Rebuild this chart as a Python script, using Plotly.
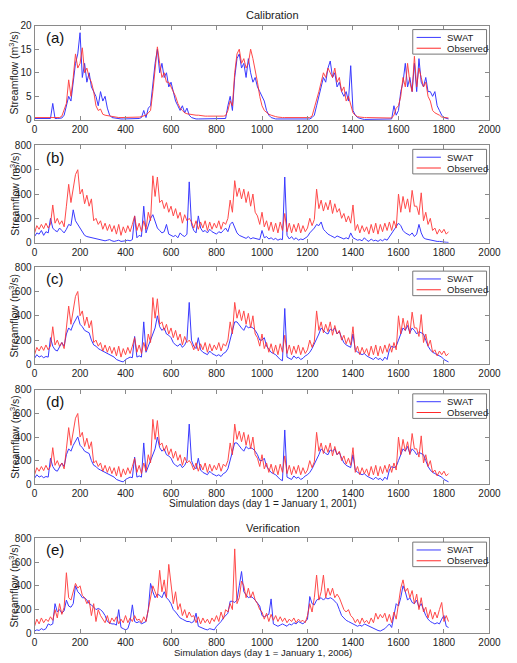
import plotly.graph_objects as go

# ---------------- data (10-day sampling) ----------------
days = list(range(0, 1830, 10))

obs_a = [0.5,0.5,0.5,0.5,0.5,0.5,0.5,0.5,0.5,0.5,
         0.5,0.5,0.8,2,3.5,8.5,5,9,14,11,
         12,15.3,10,11,9,8,6,3,2,2.3,
         1.2,1,0.9,0.8,0.7,0.6,0.6,0.5,0.5,0.5,
         0.5,0.5,0.5,0.5,0.5,0.5,0.6,0.7,0.8,1,
         1.5,2,6,11,15.5,12,9,10,8,8,
         7,6,5,3.5,2.5,2,1.5,1.3,1.2,1.1,
         1,1,1,0.9,0.9,0.8,0.8,0.8,0.7,0.7,
         0.7,0.7,0.8,0.8,0.9,2,4,3,10,14,
         15,12,13,11,12,15,13,10,8,5,
         3,2,1.5,1.2,1,0.8,0.7,0.6,0.5,0.5,
         0.5,0.5,0.5,0.5,0.5,0.5,0.5,0.5,0.5,0.5,
         0.5,0.5,0.8,2.5,4,6,8,10,9,11,
         10,9,11,8,9,6,7,4,5,3,
         1.5,1,0.7,0.6,0.5,0.5,0.5,0.5,0.5,0.5,
         0.4,0.4,0.4,0.4,0.4,0.4,0.4,0.4,1,2.5,
         3,5,9,7,12,8,6,13.5,7,11,
         9,7,8,5,4,2,1.5,1.3,1,0.6,
         0.5,0.5,0.4]

swat_a = [0.3,0.3,0.3,0.3,0.3,0.3,0.3,0.3,3.5,0.3,
          0.3,0.3,0.4,1,3,5,4,8,12,14,
          18.5,9,12,8,10,7,6,5,3,6,
          4,5,2.5,1,0.5,0.4,0.3,0.2,0.2,0.2,
          0.2,0.2,0.2,0.2,0.2,0.2,0.3,0.5,2,0.5,
          2.5,3,8,12,15,10,12,9,10,7,
          8,6,4,3,2,3,1.5,2.5,1,0.5,
          0.3,0.2,0.2,0.2,0.2,0.2,0.2,0.2,0.2,0.2,
          0.2,0.2,0.2,0.2,0.3,3,5,2,9,13,
          14,11,12,9,13,10,8,9,7,6,
          5,4,2,1,0.5,0.3,0.2,0.2,0.2,0.2,
          0.2,0.2,0.2,0.2,0.2,0.2,0.2,0.2,0.2,0.2,
          0.2,0.2,0.5,1,3,5,7,9,8,11,
          12.5,9,10,7,8,6,5,6,4,11.5,
          2,1,0.5,0.3,0.2,0.1,0.1,0.1,0.1,0.1,
          0.1,0.1,0.1,0.1,0.1,0.1,0.1,0.2,3,1,
          2,6,8,12,7,9,6,12,6,13,
          8,7,9,6,6,5,6,3,2,1,
          0.5,0.3,0.2]

obs_bcd = [80,140,110,150,115,160,120,150,310,160,
           200,150,180,130,300,480,330,440,560,600,
           400,440,320,390,300,360,180,200,150,180,
           110,160,100,150,90,140,70,150,60,130,
           80,140,90,150,220,100,160,90,180,110,
           250,180,550,380,540,330,350,280,330,250,
           300,220,280,200,250,160,230,180,200,170,
           120,180,110,170,120,180,100,170,110,160,
           120,180,110,170,150,200,350,250,510,380,
           450,360,440,330,420,300,400,250,220,150,
           250,130,180,100,170,90,160,80,170,100,
           240,90,160,80,150,90,160,80,140,90,
           120,200,140,190,440,280,350,260,330,270,
           350,240,320,250,280,200,240,170,220,160,
           310,100,150,80,140,90,130,70,150,80,
           160,70,150,90,160,100,170,100,180,120,
           400,250,380,280,360,250,430,300,300,230,
           410,180,250,150,200,100,120,70,110,80,
           110,70,90]

swat_b = [50,80,70,100,60,90,80,200,120,100,
          90,120,100,80,110,150,140,270,180,150,
          110,80,60,50,45,40,40,35,30,25,
          20,15,20,25,15,10,15,20,10,10,
          15,20,15,25,220,40,60,50,300,80,
          150,200,230,180,120,100,80,90,150,70,
          60,50,60,40,80,60,50,70,500,150,
          100,80,220,120,90,100,80,110,90,80,
          70,90,80,100,120,90,150,170,130,80,
          60,50,40,35,50,30,40,35,30,25,
          100,40,50,30,40,25,35,20,30,25,
          540,60,30,50,25,40,20,30,25,40,
          50,80,100,120,150,140,170,110,90,70,
          60,50,40,55,45,35,30,40,30,80,
          40,30,20,25,15,40,20,10,30,15,
          20,10,25,15,30,20,50,80,110,130,
          160,140,100,80,70,60,80,50,70,150,
          80,40,30,25,20,15,15,10,10,5,
          5,3,2]

swat_cd = [50,80,60,70,55,65,60,220,150,120,
           110,140,180,150,250,300,280,330,360,400,
           330,310,280,270,260,200,160,150,130,120,
           110,100,90,80,70,60,40,30,25,20,
           40,50,60,55,230,60,70,60,350,100,
           150,200,250,300,400,310,280,300,250,240,
           220,180,160,150,170,140,160,200,510,200,
           150,130,220,120,100,90,80,110,90,80,
           70,80,65,90,100,130,200,280,350,350,
           320,300,280,320,300,310,300,280,250,200,
           200,220,150,120,100,90,80,60,40,30,
           460,60,50,40,70,50,60,40,50,70,
           80,100,130,170,200,250,300,280,260,250,
           290,280,300,250,270,220,180,160,150,140,
           250,120,100,90,80,90,70,60,50,40,
           60,40,50,30,60,40,120,150,140,150,
           200,250,300,280,320,260,300,280,250,270,
           260,250,200,150,120,100,90,80,70,60,
           40,30,20]

obs_e = [60,120,80,130,90,120,100,140,110,200,
         130,250,160,220,510,300,280,350,420,380,
         400,320,300,250,280,150,250,100,200,150,
         120,90,150,80,130,100,140,80,120,90,
         150,90,130,100,150,110,120,90,140,100,
         200,300,400,350,300,530,350,450,300,580,
         400,250,350,200,250,150,200,130,180,140,
         150,90,140,80,130,90,120,80,130,100,
         150,100,180,120,200,180,250,200,710,250,
         300,440,400,300,380,300,350,280,250,200,
         180,120,170,100,160,110,150,100,140,100,
         130,90,120,100,130,90,120,100,110,90,
         150,250,180,300,490,280,350,490,300,380,
         320,380,300,330,300,250,200,180,200,150,
         130,90,120,80,130,90,110,80,130,90,
         170,120,160,130,170,100,160,90,180,120,
         250,380,450,350,380,300,360,250,330,200,
         300,180,220,130,200,120,180,130,200,260,
         100,150,100]

swat_e = [20,30,25,40,30,40,80,70,80,250,
          180,200,170,190,280,230,220,250,400,350,
          330,300,300,280,250,240,220,200,210,200,
          180,150,100,90,80,80,70,200,50,40,
          30,40,100,240,100,90,100,80,90,100,
          200,420,350,300,330,320,300,350,300,280,
          250,200,180,150,130,120,110,100,100,90,
          100,170,60,50,40,35,30,40,35,30,
          60,80,100,130,150,170,270,270,260,280,
          400,520,350,320,300,310,300,280,250,230,
          150,140,150,160,290,80,70,60,70,80,
          70,60,80,70,90,80,100,90,80,100,
          120,310,250,240,280,290,300,280,300,290,
          300,290,270,250,200,150,130,110,100,90,
          80,70,60,70,60,80,70,60,50,40,
          30,25,20,30,40,60,80,50,150,250,
          230,300,400,350,280,300,260,250,280,220,
          250,200,150,120,100,90,80,90,80,120,
          150,60,50]

panel_labels = ["(a)", "(b)", "(c)", "(d)", "(e)"]
series_names = ["SWAT", "Observed"]
series = [(swat_a, obs_a), (swat_b, obs_bcd), (swat_cd, obs_bcd),
          (swat_cd, obs_bcd), (swat_e, obs_e)]
ymax = [20, 800, 800, 800, 800]
ydtick = [5, 200, 200, 200, 200]

# ---------------- layout (pixel geometry) ----------------
W, H = 517, 663
x_left, x_right = 32.5, 501
panel_px = [(20, 116), (142, 241), (266, 365), (391, 487), (542, 639)]

BLUE = "#3a3aff"
RED = "#ff2a2a"
FONT = "Liberation Sans, Arial, sans-serif"


def px(xp):
    return xp / W


def py(yp):
    return 1 - yp / H


fig = go.Figure()
layout = dict(width=W, height=H, margin=dict(l=0, r=0, t=0, b=0),
              paper_bgcolor="white", plot_bgcolor="white", showlegend=False,
              font=dict(family=FONT, size=10, color="#222"))
annotations = []
shapes = []

for i, ((sw, ob), lab) in enumerate(zip(series, panel_labels)):
    k = "" if i == 0 else str(i + 1)
    fig.add_trace(go.Scatter(x=days, y=sw, mode="lines", name=series_names[0],
                             line=dict(color=BLUE, width=1),
                             xaxis="x" + k, yaxis="y" + k))
    fig.add_trace(go.Scatter(x=days, y=ob, mode="lines", name=series_names[1],
                             line=dict(color=RED, width=1), opacity=0.85,
                             xaxis="x" + k, yaxis="y" + k))
    top, bot = panel_px[i]
    axstyle = dict(showline=True, linecolor="#8a8a8a", linewidth=1,
                   mirror="ticks", ticks="inside", ticklen=4,
                   tickcolor="#8a8a8a", showgrid=False, zeroline=False,
                   tickfont=dict(size=10, color="#222", family=FONT))
    layout["xaxis" + k] = dict(domain=[px(x_left), px(x_right)],
                               range=[0, 2000], dtick=200, tick0=0,
                               anchor="y" + k, **axstyle)
    layout["yaxis" + k] = dict(domain=[py(bot), py(top)],
                               range=[0, ymax[i]], dtick=ydtick[i], tick0=0,
                               anchor="x" + k, **axstyle)

    # legend box (drawn like the MATLAB legend)
    bx0, bx1 = 422, 498
    by0, by1 = top + 4, top + 29
    shapes.append(dict(type="rect", xref="paper", yref="paper",
                       x0=px(bx0), x1=px(bx1), y0=py(by1), y1=py(by0),
                       line=dict(color="#777", width=1), fillcolor="white",
                       layer="above"))
    for j, (name, col) in enumerate(zip(series_names, [BLUE, RED])):
        yy = by0 + 8 + 11 * j
        shapes.append(dict(type="line", xref="paper", yref="paper",
                           x0=px(bx0 + 4), x1=px(bx0 + 29), y0=py(yy), y1=py(yy),
                           line=dict(color=col, width=1), layer="above"))
        annotations.append(dict(text=name, x=px(bx0 + 33), y=py(yy),
                                xref="paper", yref="paper", showarrow=False,
                                xanchor="left", yanchor="middle",
                                font=dict(size=9.5, color="#222", family=FONT)))

    annotations.append(dict(text=lab, x=px(54), y=py(top + 12),
                            xref="paper", yref="paper", showarrow=False,
                            xanchor="center", yanchor="middle",
                            font=dict(size=15, color="#111", family=FONT)))
    annotations.append(dict(text="Streamflow (m<sup>3</sup>/s)",
                            x=px(11), y=py((top + bot) / 2),
                            xref="paper", yref="paper", showarrow=False,
                            textangle=-90, xanchor="center", yanchor="middle",
                            font=dict(size=10.5, color="#222", family=FONT)))

annotations += [
    dict(text="Calibration", x=px(278), y=py(9), xref="paper", yref="paper",
         showarrow=False, xanchor="center", yanchor="middle",
         font=dict(size=11, color="#222", family=FONT)),
    dict(text="Verification", x=px(278), y=py(532), xref="paper", yref="paper",
         showarrow=False, xanchor="center", yanchor="middle",
         font=dict(size=11, color="#222", family=FONT)),
    dict(text="Simulation days (day 1 = January 1, 2001)", x=px(268), y=py(507),
         xref="paper", yref="paper", showarrow=False, xanchor="center",
         yanchor="middle", font=dict(size=10, color="#222", family=FONT)),
    dict(text="Simulation days (day 1 = January 1, 2006)", x=px(268), y=py(658.5),
         xref="paper", yref="paper", showarrow=False, xanchor="center",
         yanchor="middle", font=dict(size=9.5, color="#222", family=FONT)),
]
layout["annotations"] = annotations
layout["shapes"] = shapes
fig.update_layout(**layout)
fig.write_html("out.html")
